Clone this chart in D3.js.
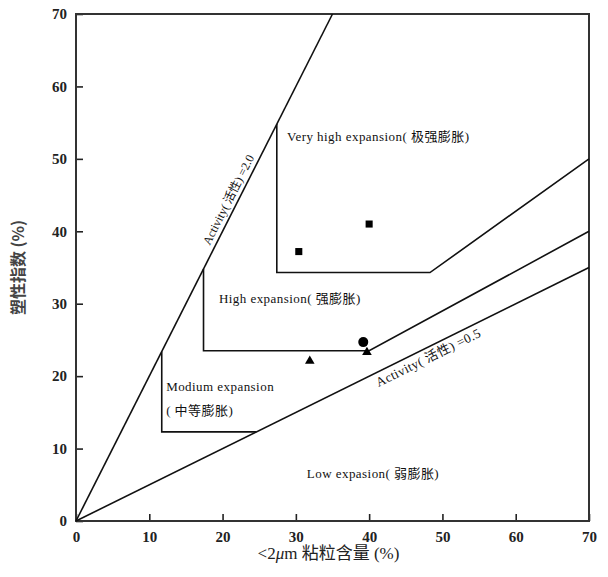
<!DOCTYPE html>
<html>
<head>
<meta charset="utf-8">
<script src="https://cdn.jsdelivr.net/npm/d3@7"></script>
<style>
  body { margin: 0; background: #fff; }
  .tick text { font-family: "Liberation Serif", serif; font-weight: bold; font-size: 15px; fill: #222; }
  .zone { font-family: "Liberation Serif", "Noto Sans CJK SC", serif; font-size: 13px; letter-spacing: 0.45px; fill: #111; }
</style>
</head>
<body>
<svg width="608" height="577"></svg>
<script>
// axis ticks
let xTicks = [0, 10, 20, 30, 40, 50, 60, 70];
let yTicks = [0, 10, 20, 30, 40, 50, 60, 70];

// boundary lines (clay %, plasticity index)
let activityHigh = [[0, 0], [35, 70]];
let activityLow = [[0, 0], [70, 35]];
let veryHighLine = [[27.4, 54.8], [27.4, 34.3], [48.3, 34.3], [70, 50]];
let highLine = [[17.4, 34.8], [17.4, 23.5], [40, 23.5], [70, 40]];
let mediumLine = [[11.7, 23.4], [11.7, 12.3], [24.6, 12.3]];

// samples
let squarePts = [[30.4, 37.2], [40, 41]];
let circlePts = [[39.2, 24.7]];
let trianglePts = [[31.9, 22.1], [39.7, 23.3]];

// zone labels
let zoneLabels = [
  { text: "Very high expansion( 极强膨胀)", x: 28.8, y: 52.5 },
  { text: "High expansion( 强膨胀)", x: 19.5, y: 30.1 },
  { text: "Modium expansion", x: 12.3, y: 17.9 },
  { text: "( 中等膨胀)", x: 12.3, y: 14.7 },
  { text: "Low expasion( 弱膨胀)", x: 31.5, y: 5.9 }
];

var svg = d3.select("svg");
var margin = { left: 76, right: 19, up: 14, down: 56 };
var width = 608 - margin.left - margin.right;
var height = 577 - margin.up - margin.down;

var g = svg.append("g")
    .attr("transform", "translate(" + margin.left + "," + margin.up + ")");

let xScale = d3.scaleLinear().domain([0, 70]).range([0, width]);
let yScale = d3.scaleLinear().domain([0, 70]).range([height, 0]);

// axes with inward ticks
g.append("g")
    .attr("transform", "translate(0," + height + ")")
    .call(d3.axisBottom(xScale).tickValues(xTicks).tickSizeInner(-7).tickSizeOuter(0).tickPadding(10))
    .call(a => a.select(".domain").remove())
    .call(a => a.selectAll("line").attr("stroke", "#222").attr("stroke-width", 1.6));

g.append("g")
    .call(d3.axisLeft(yScale).tickValues(yTicks).tickSizeInner(-7).tickSizeOuter(0).tickPadding(9))
    .call(a => a.select(".domain").remove())
    .call(a => a.selectAll("line").attr("stroke", "#222").attr("stroke-width", 1.6));

// frame
g.append("rect")
    .attr("width", width).attr("height", height)
    .attr("fill", "none").attr("stroke", "#333").attr("stroke-width", 2);

let line = d3.line().x(d => xScale(d[0])).y(d => yScale(d[1]));

[activityHigh, activityLow, veryHighLine, highLine, mediumLine].forEach(function (pts) {
    g.append("path")
        .attr("d", line(pts))
        .attr("fill", "none")
        .attr("stroke", "#111")
        .attr("stroke-width", 1.6);
});

// activity labels along the two lines
function lineAngle(pts) {
    let dx = xScale(pts[1][0]) - xScale(pts[0][0]);
    let dy = yScale(pts[1][1]) - yScale(pts[0][1]);
    return Math.atan2(dy, dx) * 180 / Math.PI;
}

// =2.0 sits above/left of its line
g.append("text")
    .attr("class", "zone")
    .attr("text-anchor", "middle")
    .attr("dy", -5)
    .style("font-size", "12px")
    .style("letter-spacing", "0px")
    .attr("transform", "translate(" + xScale(21.9) + "," + yScale(43.8) + ") rotate(" + lineAngle(activityHigh) + ")")
    .text("Activity( 活性) =2.0");

// =0.5 sits below its line
g.append("text")
    .attr("class", "zone")
    .attr("text-anchor", "middle")
    .attr("dy", 14)
    .attr("transform", "translate(" + xScale(47.5) + "," + yScale(23.75) + ") rotate(" + lineAngle(activityLow) + ")")
    .text("Activity(  活性)  =0.5");

g.selectAll(".zlabel")
    .data(zoneLabels)
    .enter().append("text")
    .attr("class", "zone zlabel")
    .attr("x", d => xScale(d.x))
    .attr("y", d => yScale(d.y))
    .text(d => d.text);

// sample markers
g.selectAll(".sq")
    .data(squarePts)
    .enter().append("path")
    .attr("transform", d => "translate(" + xScale(d[0]) + "," + yScale(d[1]) + ")")
    .attr("d", d3.symbol(d3.symbolSquare, 50))
    .attr("fill", "#000");

g.selectAll(".ci")
    .data(circlePts)
    .enter().append("circle")
    .attr("cx", d => xScale(d[0]))
    .attr("cy", d => yScale(d[1]))
    .attr("r", 5)
    .attr("fill", "#000");

g.selectAll(".tr")
    .data(trianglePts)
    .enter().append("path")
    .attr("transform", d => "translate(" + xScale(d[0]) + "," + yScale(d[1]) + ")")
    .attr("d", d3.symbol(d3.symbolTriangle, 40))
    .attr("fill", "#000");

// axis titles
svg.append("text")
    .attr("transform", "translate(24," + (margin.up + height / 2) + ") rotate(-90)")
    .attr("text-anchor", "middle")
    .style("font-family", "'Noto Sans CJK SC', sans-serif")
    .style("font-size", "16px")
    .style("font-weight", "bold")
    .attr("fill", "#444")
    .text("塑性指数 (%)");

let xt = svg.append("text")
    .attr("x", margin.left + width / 2 - 4)
    .attr("y", 559)
    .attr("text-anchor", "middle")
    .style("font-family", "'Liberation Serif', 'Noto Sans CJK SC', serif")
    .style("font-size", "17px")
    .attr("fill", "#222");
xt.append("tspan").text("<2");
xt.append("tspan").style("font-style", "italic").text("μ");
xt.append("tspan").text("m 粘粒含量 (%)");
</script>
</body>
</html>
